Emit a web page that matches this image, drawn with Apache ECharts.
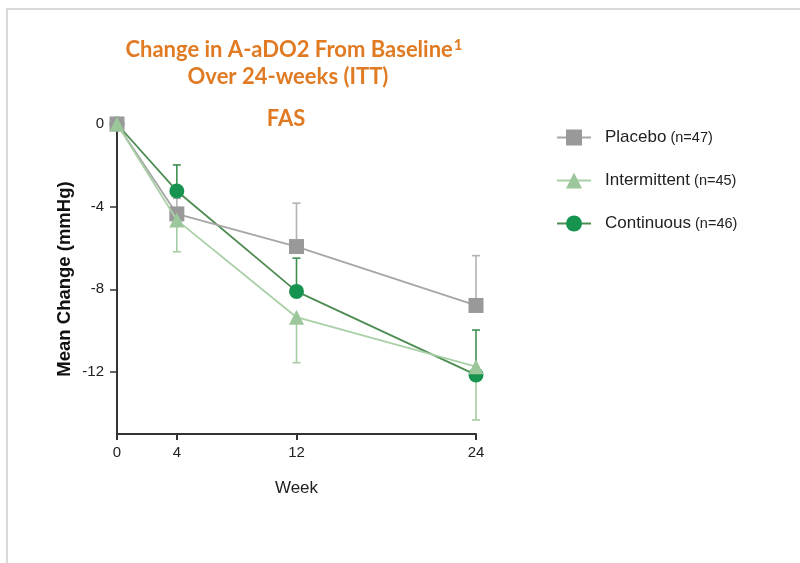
<!DOCTYPE html>
<html>
<head>
<meta charset="utf-8">
<script src="https://cdn.jsdelivr.net/npm/echarts@6/dist/echarts.min.js"></script>
<style>
html,body{margin:0;padding:0;background:#fff;}
#chart{width:800px;height:563px;}
</style>
</head>
<body>
<div id="chart"></div>
<script>
// ---- data ----
var weeks = [0, 4, 12, 24];
var xTicks = [0, 4, 12, 24];
var yTicks = [0, -4, -8, -12];
var seriesNames = ['Placebo', 'Intermittent', 'Continuous'];
var seriesN = ['(n=47)', '(n=45)', '(n=46)'];
var placeboMean = [0, -4.35, -5.93, -8.78];
var placeboErrEnd = [null, -3.6, -3.83, -6.37];
var intermittentMean = [0, -4.65, -9.35, -11.74];
var intermittentErrEnd = [null, -6.18, -11.55, -14.32];
var continuousMean = [0, -3.24, -8.1, -12.14];
var continuousErrEnd = [null, -1.98, -6.49, -9.97];

var colors = {
  Placebo: {line: '#a6a6a6', marker: '#999999', err: '#b3b3b3'},
  Intermittent: {line: '#a9d0a6', marker: '#9cc79a', err: '#a6cca4'},
  Continuous: {line: '#4d8c52', marker: '#16934f', err: '#3e8f50'}
};

function pairs(xs, ys) { return xs.map(function (x, i) { return [x, ys[i]]; }); }
function errData(xs, means, ends) {
  var out = [];
  xs.forEach(function (x, i) { if (ends[i] !== null) out.push([x, means[i], ends[i]]); });
  return out;
}
function errSeries(name, data, color, z) {
  return {
    type: 'custom', name: name + '_err', z: z, silent: true,
    data: data,
    encode: {x: 0, y: [1, 2]},
    renderItem: function (params, api) {
      var p0 = api.coord([api.value(0), api.value(1)]);
      var p1 = api.coord([api.value(0), api.value(2)]);
      var st = {stroke: color, lineWidth: 1.6};
      return {type: 'group', children: [
        {type: 'line', shape: {x1: p0[0], y1: p0[1], x2: p1[0], y2: p1[1]}, style: st},
        {type: 'line', shape: {x1: p1[0] - 4, y1: p1[1], x2: p1[0] + 4, y2: p1[1]}, style: st}
      ]};
    }
  };
}
function lineSeries(name, data, symbol, size, z) {
  var c = colors[name];
  return {
    type: 'line', name: name, data: data, z: z,
    symbol: symbol, symbolSize: size, showAllSymbol: true,
    lineStyle: {color: c.line, width: 1.8},
    itemStyle: {color: c.marker, borderWidth: 0},
    emphasis: {disabled: true}, animation: false
  };
}

var chart = echarts.init(document.getElementById('chart'), null, {renderer: 'canvas'});
var titleColor = '#e07b24';
var titleFont = 'Lato';
var tfs = 22;
var option = {
  animation: false,
  backgroundColor: '#ffffff',
  title: [
    {text: 'Change in A-aDO2 From Baseline{sup|1}', left: 289, top: 33, textAlign: 'center',
     textStyle: {color: titleColor, fontFamily: titleFont, fontWeight: 'bold', fontSize: tfs,
       rich: {sup: {color: titleColor, fontFamily: titleFont, fontWeight: 'bold', fontSize: 15, verticalAlign: 'top', padding: [0, 0, 8, 1]}}}},
    {text: 'Over 24-weeks (ITT)', left: 283, top: 61, textAlign: 'center',
     textStyle: {color: titleColor, fontFamily: titleFont, fontWeight: 'bold', fontSize: tfs}},
    {text: 'FAS', left: 281, top: 103, textAlign: 'center',
     textStyle: {color: titleColor, fontFamily: titleFont, fontWeight: 'bold', fontSize: tfs}}
  ],
  graphic: [
    {type: 'rect', shape: {x: 7, y: 9, width: 820, height: 600}, style: {fill: 'none', stroke: '#d9d9d9', lineWidth: 2}, silent: true}
  ],
  grid: {left: 117, top: 124, width: 359, height: 310, containLabel: false},
  legend: {
    orient: 'vertical', left: 551, top: 124, itemWidth: 34, itemHeight: 20, itemGap: 26,
    data: seriesNames,
    formatter: function (name) { return '{a|' + name + '}{b| ' + seriesN[seriesNames.indexOf(name)] + '}'; },
    textStyle: {rich: {
      a: {fontFamily: 'Liberation Sans', fontSize: 17, color: '#222', padding: [0, 0, 0, 9], lineHeight: 20},
      b: {fontFamily: 'Liberation Sans', fontSize: 14.5, color: '#222', lineHeight: 20}
    }}
  },
  xAxis: {
    type: 'value', min: 0, max: 24,
    name: 'Week', nameLocation: 'middle', nameGap: 46,
    nameTextStyle: {fontFamily: 'Liberation Sans', fontSize: 17, color: '#222'},
    axisLine: {show: true, onZero: false, lineStyle: {color: '#333', width: 2}},
    axisTick: {show: true, length: 6, lineStyle: {color: '#333', width: 2}, customValues: xTicks},
    axisLabel: {fontFamily: 'Liberation Sans', fontSize: 15, color: '#222', margin: 11, customValues: xTicks},
    splitLine: {show: false}
  },
  yAxis: {
    type: 'value', min: -15, max: 0,
    name: 'Mean Change (mmHg)', nameLocation: 'middle', nameGap: 43, nameRotate: 90,
    nameTextStyle: {fontFamily: 'Liberation Sans', fontSize: 18.5, fontWeight: 'bold', color: '#111'},
    axisLine: {show: true, onZero: false, lineStyle: {color: '#333', width: 2}},
    axisTick: {show: true, length: 7, lineStyle: {color: '#333', width: 1.5}, customValues: yTicks},
    axisLabel: {fontFamily: 'Liberation Sans', fontSize: 15, color: '#222', margin: 13, customValues: yTicks},
    splitLine: {show: false}
  },
  series: [
    errSeries('Continuous', errData(weeks, continuousMean, continuousErrEnd), colors.Continuous.err, 2),
    errSeries('Placebo', errData(weeks, placeboMean, placeboErrEnd), colors.Placebo.err, 2),
    errSeries('Intermittent', errData(weeks, intermittentMean, intermittentErrEnd), colors.Intermittent.err, 2),
    lineSeries('Continuous', pairs(weeks, continuousMean), 'circle', 15, 3),
    lineSeries('Placebo', pairs(weeks, placeboMean), 'rect', 15, 4),
    lineSeries('Intermittent', pairs(weeks, intermittentMean), 'triangle', 15, 5)
  ]
};
chart.setOption(option);
</script>
</body>
</html>
